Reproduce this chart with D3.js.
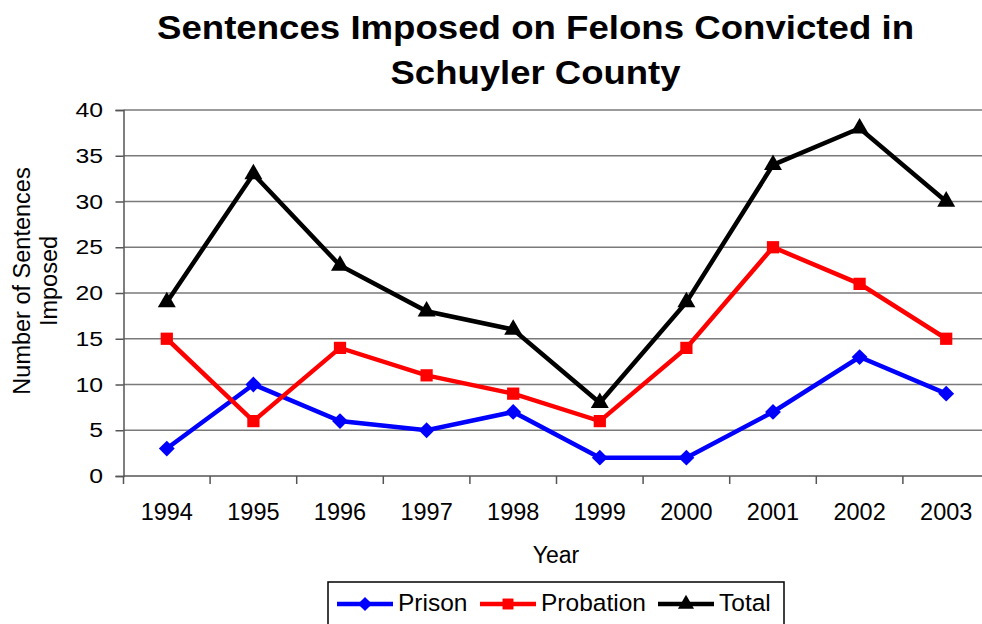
<!DOCTYPE html>
<html>
<head>
<meta charset="utf-8">
<script src="https://cdn.jsdelivr.net/npm/d3@7"></script>
<style>
	body { margin: 0; background: #fff; }
	svg { display: block; font-family: "Liberation Sans", Arial, sans-serif; }
	svg text { font-family: "Liberation Sans", Arial, sans-serif; }
</style>
</head>
<body>
<main></main>
<script>
const years = ["1994","1995","1996","1997","1998","1999","2000","2001","2002","2003"];
const prison = [3,10,6,5,7,2,2,7,13,9];
const probation = [15,6,14,11,9,6,14,25,21,15];
const total = [19,33,23,18,16,8,19,34,38,30];
const yTicks = [0,5,10,15,20,25,30,35,40];

const series = [
	{name: "Prison", values: prison, color: "#0000ff", symbol: d3.symbolDiamond2, size: 160},
	{name: "Probation", values: probation, color: "#ff0000", symbol: d3.symbolSquare, size: 150},
	{name: "Total", values: total, color: "#000000", symbol: d3.symbolTriangle, size: 140}
];

const w = 982, h = 624,
	pLeft = 123.5, pRight = 989.5, pTop = 110, pBottom = 476;

const svg = d3.select("main").append("svg")
	.attr("width", w)
	.attr("height", h);

const xScale = d3.scaleBand()
	.domain(years)
	.range([pLeft, pRight]);

const yScale = d3.scaleLinear()
	.domain([0, 40])
	.range([pBottom, pTop]);

// gridlines
svg.append("g")
	.selectAll("line")
	.data(yTicks.slice(1))
	.enter()
	.append("line")
	.attr("x1", pLeft).attr("x2", pRight)
	.attr("y1", d => yScale(d)).attr("y2", d => yScale(d))
	.attr("stroke", "#7a7a7a")
	.attr("stroke-width", 1.5);

// y axis
const yAxis = d3.axisLeft(yScale).tickValues(yTicks).tickSize(8).tickPadding(5);
const gy = svg.append("g")
	.attr("transform", "translate(" + pLeft + ",0)")
	.call(yAxis);
gy.select(".domain").attr("stroke", "#555").attr("stroke-width", 1.5);
gy.selectAll(".tick line").attr("stroke", "#555").attr("stroke-width", 1.5);
gy.selectAll("text").style("font-size", "21px").attr("fill", "#000")
	.attr("transform", "scale(1.18,1)").attr("x", -20.5 / 1.18);

// x axis: labels at band centres, ticks at band edges
const xAxis = d3.axisBottom(xScale).tickSize(0).tickPadding(20);
const gx = svg.append("g")
	.attr("transform", "translate(0," + pBottom + ")")
	.call(xAxis);
gx.select(".domain").remove();
gx.selectAll("text").style("font-size", "23.5px").attr("fill", "#000").attr("dy", "1em");
svg.append("line")
	.attr("x1", pLeft).attr("x2", pRight)
	.attr("y1", pBottom).attr("y2", pBottom)
	.attr("stroke", "#555").attr("stroke-width", 1.5);
svg.append("g")
	.selectAll("line")
	.data(years.concat(["end"]))
	.enter()
	.append("line")
	.attr("x1", (d,i) => pLeft + i * xScale.bandwidth())
	.attr("x2", (d,i) => pLeft + i * xScale.bandwidth())
	.attr("y1", pBottom).attr("y2", pBottom + 8)
	.attr("stroke", "#555").attr("stroke-width", 1.5);

const cx = d => xScale(d) + xScale.bandwidth() / 2;

// lines + markers
series.forEach(s => {
	const line = d3.line()
		.x((d,i) => cx(years[i]))
		.y(d => yScale(d));
	svg.append("path")
		.datum(s.values)
		.attr("d", line)
		.attr("fill", "none")
		.attr("stroke", s.color)
		.attr("stroke-width", 4.5)
		.attr("stroke-linejoin", "miter");
	svg.append("g")
		.selectAll("path")
		.data(s.values)
		.enter()
		.append("path")
		.attr("d", d3.symbol().type(s.symbol).size(s.size))
		.attr("transform", (d,i) => "translate(" + cx(years[i]) + "," + yScale(d) + ")")
		.attr("fill", s.color);
});

// title
const title = ["Sentences Imposed on Felons Convicted in", "Schuyler County"];
const titleLen = [757, 290];
svg.append("g")
	.selectAll("text")
	.data(title)
	.enter()
	.append("text")
	.attr("x", 535.5)
	.attr("y", (d,i) => 39 + i * 45)
	.attr("text-anchor", "middle")
	.attr("textLength", (d,i) => titleLen[i])
	.attr("lengthAdjust", "spacingAndGlyphs")
	.style("font-size", "33px")
	.style("font-weight", "bold")
	.text(d => d);

// axis titles
svg.append("text")
	.attr("x", 556)
	.attr("y", 563)
	.attr("text-anchor", "middle")
	.style("font-size", "23px")
	.text("Year");

const yLabel = ["Number of Sentences", "Imposed"];
svg.append("g")
	.selectAll("text")
	.data(yLabel)
	.enter()
	.append("text")
	.attr("transform", (d,i) => "translate(" + (30 + i * 27) + ",281) rotate(-90)")
	.attr("text-anchor", "middle")
	.style("font-size", "23.5px")
	.text(d => d);

// legend
const legend = svg.append("g");
legend.append("rect")
	.attr("x", 328).attr("y", 582)
	.attr("width", 456).attr("height", 60)
	.attr("fill", "#fff")
	.attr("stroke", "#000")
	.attr("stroke-width", 1.5);
const legendX = [337, 480, 658];
series.forEach((s, i) => {
	const g = legend.append("g").attr("transform", "translate(" + legendX[i] + ",604)");
	g.append("line")
		.attr("x1", 0).attr("x2", 56)
		.attr("stroke", s.color).attr("stroke-width", 4.5);
	g.append("path")
		.attr("d", d3.symbol().type(s.symbol).size(s.size * 0.8))
		.attr("transform", "translate(28,0)")
		.attr("fill", s.color);
	g.append("text")
		.attr("x", 61)
		.attr("y", 7)
		.style("font-size", "24.5px")
		.text(s.name);
});
</script>
</body>
</html>
